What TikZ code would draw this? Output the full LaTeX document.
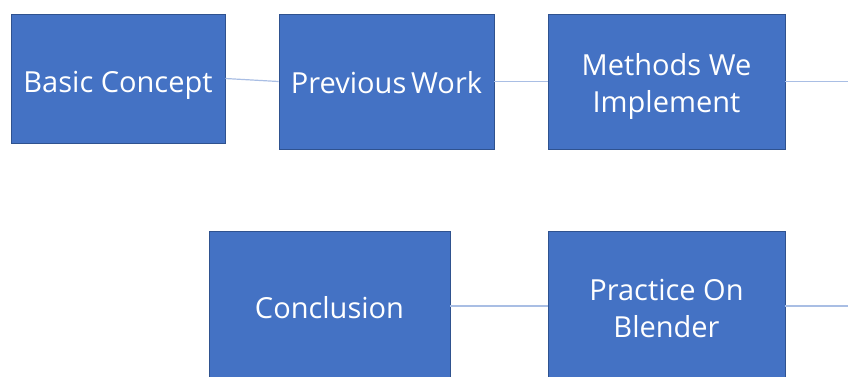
\documentclass[tikz,border=0pt]{standalone}
\usepackage{fontspec}
\setmainfont{Open Sans}
\definecolor{boxfill}{HTML}{4472C4}
\definecolor{boxline}{HTML}{2F528F}
\definecolor{linkline}{HTML}{A9BEE4}
\newcommand{\atbase}[2]{\raisebox{-#1pt}[0pt][0pt]{\begin{tabular}[b]{@{}c@{}}#2\end{tabular}}}
\begin{document}
\begin{tikzpicture}[x=1pt,y=-1pt,
  topicbox/.style={rectangle, draw=boxline, fill=boxfill, line width=0.9pt,
    text=white, align=center, inner sep=0pt,
    font=\fontsize{29}{37}\selectfont},
  linkline/.style={draw=linkline, line width=1.2pt}]
\useasboundingbox (0,0) rectangle (848,376);
\clip (0,0) rectangle (848,376);
\fill[white] (0,0) rectangle (848,376);
\node[topicbox, minimum width=214pt, minimum height=129pt] (basic) at (118,78.5) {\atbase{13.5}{Basic Concept}};
\node[topicbox, minimum width=215pt, minimum height=135pt] (prev) at (386.5,81.5) {\atbase{11.5}{Previous\,Work}};
\node[topicbox, minimum width=237pt, minimum height=135pt] (meth) at (666.5,81.5) {\atbase{30.5}{Methods We\\Implement}};
\node[topicbox, minimum width=241pt, minimum height=150pt] (concl) at (329.5,306) {\atbase{12}{Conclusion}};
\node[topicbox, minimum width=237pt, minimum height=152pt] (prac) at (666.5,307) {\atbase{30}{Practice On\\Blender}};
\coordinate (topend) at (848,81.5);
\coordinate (botend) at (848,306);
\draw[linkline] (basic.east) -- (prev.west);
\draw[linkline] (prev.east) -- (meth.west);
\draw[linkline] (meth.east) -- (topend);
\draw[linkline] (concl.east) -- (prac.west |- concl.east);
\draw[linkline] (prac.east |- botend) -- (botend);
\end{tikzpicture}
\end{document}
